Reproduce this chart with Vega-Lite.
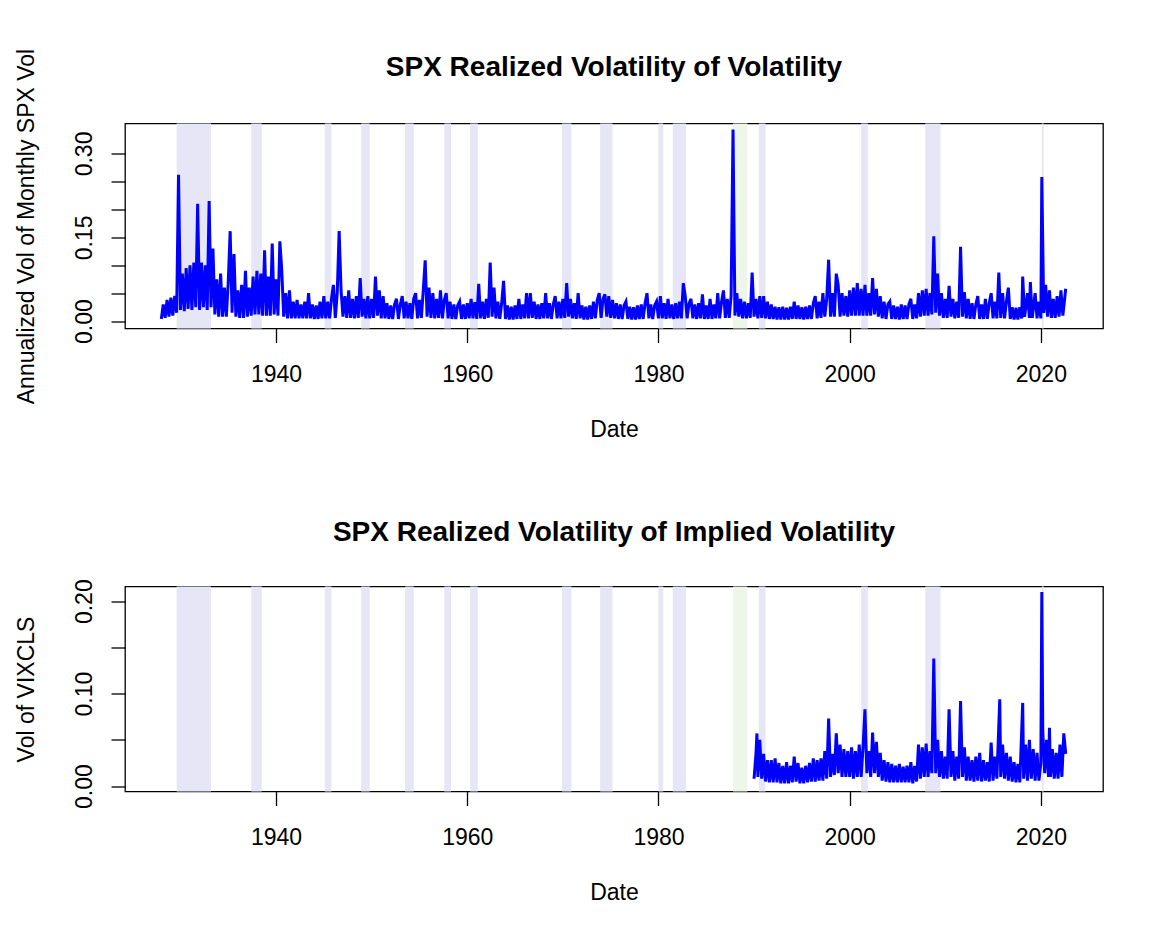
{
"$schema": "https://vega.github.io/schema/vega-lite/v6.json",
"background": "white",
"padding": {"left": 14, "top": 47.5, "right": 0, "bottom": 0},
"spacing": 75,
"config": {
 "view": {"stroke": "black", "strokeWidth": 1.3},
 "font": "Liberation Sans",
 "axis": {"grid": false, "domain": false, "tickColor": "black", "tickSize": 14, "tickWidth": 1.3, "labelFontSize": 23, "labelColor": "black", "titleFontSize": 23, "titleFontWeight": "normal", "titleColor": "black", "labelFont": "Liberation Sans", "titleFont": "Liberation Sans", "labelOverlap": false, "labelFlush": false},
 "title": {"fontSize": 28, "fontWeight": "bold", "color": "black", "font": "Liberation Sans", "anchor": "middle", "baseline": "alphabetic"}
},
"datasets": {
 "rec": [
  {"s":1929.6,"e":1933.2},{"s":1937.4,"e":1938.5},{"s":1945.1,"e":1945.8},{"s":1948.9,"e":1949.8},{"s":1953.5,"e":1954.4},{"s":1957.6,"e":1958.3},{"s":1960.3,"e":1961.1},{"s":1969.9,"e":1970.9},{"s":1973.9,"e":1975.2},{"s":1980.0,"e":1980.5},{"s":1981.5,"e":1982.9},{"s":1990.5,"e":1991.2},{"s":2001.2,"e":2001.9},{"s":2007.9,"e":2009.5},{"s":2020.1,"e":2020.3}
 ],
 "grn": [{"s":1987.8,"e":1989.3}],
 "vv": [
  {"t":1928.0,"v":0.004},{"t":1928.2,"v":0.030},{"t":1928.4,"v":0.006},{"t":1928.6,"v":0.038},{"t":1928.8,"v":0.008},{"t":1929.0,"v":0.042},{"t":1929.2,"v":0.010},{"t":1929.4,"v":0.045},{"t":1929.6,"v":0.015},{"t":1929.8,"v":0.262},
  {"t":1930.0,"v":0.020},{"t":1930.2,"v":0.085},{"t":1930.4,"v":0.018},{"t":1930.6,"v":0.095},{"t":1930.8,"v":0.022},{"t":1931.0,"v":0.100},{"t":1931.2,"v":0.020},{"t":1931.4,"v":0.105},{"t":1931.6,"v":0.025},{"t":1931.8,"v":0.210},
  {"t":1932.0,"v":0.020},{"t":1932.2,"v":0.105},{"t":1932.4,"v":0.025},{"t":1932.6,"v":0.100},{"t":1932.8,"v":0.020},{"t":1933.0,"v":0.215},{"t":1933.2,"v":0.025},{"t":1933.4,"v":0.130},{"t":1933.6,"v":0.012},{"t":1933.8,"v":0.075},
  {"t":1934.0,"v":0.008},{"t":1934.2,"v":0.085},{"t":1934.4,"v":0.008},{"t":1934.6,"v":0.060},{"t":1934.8,"v":0.008},{"t":1935.0,"v":0.070},{"t":1935.2,"v":0.161},{"t":1935.4,"v":0.015},{"t":1935.6,"v":0.120},{"t":1935.8,"v":0.008},
  {"t":1936.0,"v":0.055},{"t":1936.2,"v":0.006},{"t":1936.4,"v":0.065},{"t":1936.6,"v":0.006},{"t":1936.8,"v":0.090},{"t":1937.0,"v":0.008},{"t":1937.2,"v":0.060},{"t":1937.4,"v":0.010},{"t":1937.6,"v":0.080},{"t":1937.8,"v":0.012},
  {"t":1938.0,"v":0.090},{"t":1938.2,"v":0.012},{"t":1938.4,"v":0.085},{"t":1938.6,"v":0.010},{"t":1938.8,"v":0.127},{"t":1939.0,"v":0.010},{"t":1939.2,"v":0.080},{"t":1939.4,"v":0.010},{"t":1939.6,"v":0.139},{"t":1939.8,"v":0.012},
  {"t":1940.0,"v":0.075},{"t":1940.2,"v":0.010},{"t":1940.4,"v":0.143},{"t":1940.6,"v":0.090},{"t":1940.8,"v":0.008},{"t":1941.0,"v":0.050},{"t":1941.2,"v":0.005},{"t":1941.4,"v":0.055},{"t":1941.6,"v":0.005},{"t":1941.8,"v":0.035},
  {"t":1942.0,"v":0.005},{"t":1942.2,"v":0.038},{"t":1942.4,"v":0.005},{"t":1942.6,"v":0.030},{"t":1942.8,"v":0.005},{"t":1943.0,"v":0.035},{"t":1943.2,"v":0.005},{"t":1943.4,"v":0.050},{"t":1943.6,"v":0.005},{"t":1943.8,"v":0.030},
  {"t":1944.0,"v":0.004},{"t":1944.2,"v":0.028},{"t":1944.4,"v":0.004},{"t":1944.6,"v":0.035},{"t":1944.8,"v":0.005},{"t":1945.0,"v":0.045},{"t":1945.2,"v":0.005},{"t":1945.4,"v":0.035},{"t":1945.6,"v":0.005},{"t":1945.8,"v":0.040},
  {"t":1946.0,"v":0.065},{"t":1946.2,"v":0.006},{"t":1946.4,"v":0.050},{"t":1946.6,"v":0.161},{"t":1946.8,"v":0.055},{"t":1947.0,"v":0.008},{"t":1947.2,"v":0.045},{"t":1947.4,"v":0.006},{"t":1947.6,"v":0.055},{"t":1947.8,"v":0.006},
  {"t":1948.0,"v":0.040},{"t":1948.2,"v":0.005},{"t":1948.4,"v":0.045},{"t":1948.6,"v":0.006},{"t":1948.8,"v":0.077},{"t":1949.0,"v":0.008},{"t":1949.2,"v":0.040},{"t":1949.4,"v":0.005},{"t":1949.6,"v":0.045},{"t":1949.8,"v":0.005},
  {"t":1950.0,"v":0.040},{"t":1950.2,"v":0.006},{"t":1950.4,"v":0.080},{"t":1950.6,"v":0.010},{"t":1950.8,"v":0.055},{"t":1951.0,"v":0.005},{"t":1951.2,"v":0.045},{"t":1951.4,"v":0.005},{"t":1951.6,"v":0.032},{"t":1951.8,"v":0.004},
  {"t":1952.0,"v":0.028},{"t":1952.2,"v":0.004},{"t":1952.4,"v":0.030},{"t":1952.6,"v":0.040},{"t":1952.8,"v":0.004},{"t":1953.0,"v":0.030},{"t":1953.2,"v":0.045},{"t":1953.4,"v":0.005},{"t":1953.6,"v":0.035},{"t":1953.8,"v":0.005},
  {"t":1954.0,"v":0.032},{"t":1954.2,"v":0.004},{"t":1954.4,"v":0.040},{"t":1954.6,"v":0.050},{"t":1954.8,"v":0.005},{"t":1955.0,"v":0.038},{"t":1955.2,"v":0.006},{"t":1955.4,"v":0.055},{"t":1955.6,"v":0.109},{"t":1955.8,"v":0.008},
  {"t":1956.0,"v":0.060},{"t":1956.2,"v":0.006},{"t":1956.4,"v":0.050},{"t":1956.6,"v":0.005},{"t":1956.8,"v":0.040},{"t":1957.0,"v":0.006},{"t":1957.2,"v":0.055},{"t":1957.4,"v":0.005},{"t":1957.6,"v":0.038},{"t":1957.8,"v":0.050},
  {"t":1958.0,"v":0.005},{"t":1958.2,"v":0.035},{"t":1958.4,"v":0.004},{"t":1958.6,"v":0.030},{"t":1958.8,"v":0.004},{"t":1959.0,"v":0.028},{"t":1959.2,"v":0.035},{"t":1959.4,"v":0.004},{"t":1959.6,"v":0.030},{"t":1959.8,"v":0.004},
  {"t":1960.0,"v":0.032},{"t":1960.2,"v":0.005},{"t":1960.4,"v":0.040},{"t":1960.6,"v":0.005},{"t":1960.8,"v":0.034},{"t":1961.0,"v":0.004},{"t":1961.2,"v":0.067},{"t":1961.4,"v":0.005},{"t":1961.6,"v":0.035},{"t":1961.8,"v":0.004},
  {"t":1962.0,"v":0.040},{"t":1962.2,"v":0.006},{"t":1962.4,"v":0.105},{"t":1962.6,"v":0.008},{"t":1962.8,"v":0.060},{"t":1963.0,"v":0.005},{"t":1963.2,"v":0.035},{"t":1963.4,"v":0.004},{"t":1963.6,"v":0.032},{"t":1963.8,"v":0.072},
  {"t":1964.0,"v":0.004},{"t":1964.2,"v":0.028},{"t":1964.4,"v":0.003},{"t":1964.6,"v":0.026},{"t":1964.8,"v":0.003},{"t":1965.0,"v":0.028},{"t":1965.2,"v":0.004},{"t":1965.4,"v":0.040},{"t":1965.6,"v":0.004},{"t":1965.8,"v":0.030},
  {"t":1966.0,"v":0.005},{"t":1966.2,"v":0.050},{"t":1966.4,"v":0.005},{"t":1966.6,"v":0.050},{"t":1966.8,"v":0.006},{"t":1967.0,"v":0.035},{"t":1967.2,"v":0.004},{"t":1967.4,"v":0.030},{"t":1967.6,"v":0.004},{"t":1967.8,"v":0.032},
  {"t":1968.0,"v":0.005},{"t":1968.2,"v":0.050},{"t":1968.4,"v":0.005},{"t":1968.6,"v":0.032},{"t":1968.8,"v":0.004},{"t":1969.0,"v":0.030},{"t":1969.2,"v":0.045},{"t":1969.4,"v":0.005},{"t":1969.6,"v":0.035},{"t":1969.8,"v":0.005},
  {"t":1970.0,"v":0.040},{"t":1970.2,"v":0.006},{"t":1970.4,"v":0.068},{"t":1970.6,"v":0.008},{"t":1970.8,"v":0.040},{"t":1971.0,"v":0.005},{"t":1971.2,"v":0.032},{"t":1971.4,"v":0.004},{"t":1971.6,"v":0.050},{"t":1971.8,"v":0.005},
  {"t":1972.0,"v":0.028},{"t":1972.2,"v":0.003},{"t":1972.4,"v":0.026},{"t":1972.6,"v":0.003},{"t":1972.8,"v":0.028},{"t":1973.0,"v":0.004},{"t":1973.2,"v":0.035},{"t":1973.4,"v":0.005},{"t":1973.6,"v":0.038},{"t":1973.8,"v":0.050},
  {"t":1974.0,"v":0.006},{"t":1974.2,"v":0.040},{"t":1974.4,"v":0.048},{"t":1974.6,"v":0.008},{"t":1974.8,"v":0.045},{"t":1975.0,"v":0.006},{"t":1975.2,"v":0.038},{"t":1975.4,"v":0.005},{"t":1975.6,"v":0.032},{"t":1975.8,"v":0.004},
  {"t":1976.0,"v":0.030},{"t":1976.2,"v":0.004},{"t":1976.4,"v":0.028},{"t":1976.6,"v":0.035},{"t":1976.8,"v":0.004},{"t":1977.0,"v":0.026},{"t":1977.2,"v":0.003},{"t":1977.4,"v":0.025},{"t":1977.6,"v":0.003},{"t":1977.8,"v":0.028},
  {"t":1978.0,"v":0.004},{"t":1978.2,"v":0.030},{"t":1978.4,"v":0.004},{"t":1978.6,"v":0.032},{"t":1978.8,"v":0.050},{"t":1979.0,"v":0.005},{"t":1979.2,"v":0.030},{"t":1979.4,"v":0.004},{"t":1979.6,"v":0.028},{"t":1979.8,"v":0.035},
  {"t":1980.0,"v":0.005},{"t":1980.2,"v":0.045},{"t":1980.4,"v":0.005},{"t":1980.6,"v":0.032},{"t":1980.8,"v":0.004},{"t":1981.0,"v":0.040},{"t":1981.2,"v":0.005},{"t":1981.4,"v":0.030},{"t":1981.6,"v":0.004},{"t":1981.8,"v":0.032},
  {"t":1982.0,"v":0.005},{"t":1982.2,"v":0.035},{"t":1982.4,"v":0.005},{"t":1982.6,"v":0.068},{"t":1982.8,"v":0.045},{"t":1983.0,"v":0.005},{"t":1983.2,"v":0.032},{"t":1983.4,"v":0.040},{"t":1983.6,"v":0.005},{"t":1983.8,"v":0.030},
  {"t":1984.0,"v":0.004},{"t":1984.2,"v":0.032},{"t":1984.4,"v":0.005},{"t":1984.6,"v":0.048},{"t":1984.8,"v":0.004},{"t":1985.0,"v":0.028},{"t":1985.2,"v":0.004},{"t":1985.4,"v":0.040},{"t":1985.6,"v":0.004},{"t":1985.8,"v":0.030},
  {"t":1986.0,"v":0.005},{"t":1986.2,"v":0.050},{"t":1986.4,"v":0.005},{"t":1986.6,"v":0.035},{"t":1986.8,"v":0.055},{"t":1987.0,"v":0.006},{"t":1987.2,"v":0.040},{"t":1987.4,"v":0.006},{"t":1987.6,"v":0.045},{"t":1987.8,"v":0.343},
  {"t":1988.0,"v":0.010},{"t":1988.2,"v":0.050},{"t":1988.4,"v":0.008},{"t":1988.6,"v":0.040},{"t":1988.8,"v":0.005},{"t":1989.0,"v":0.035},{"t":1989.2,"v":0.005},{"t":1989.4,"v":0.032},{"t":1989.6,"v":0.006},{"t":1989.8,"v":0.087},
  {"t":1990.0,"v":0.008},{"t":1990.2,"v":0.040},{"t":1990.4,"v":0.005},{"t":1990.6,"v":0.045},{"t":1990.8,"v":0.006},{"t":1991.0,"v":0.045},{"t":1991.2,"v":0.005},{"t":1991.4,"v":0.035},{"t":1991.6,"v":0.004},{"t":1991.8,"v":0.030},
  {"t":1992.0,"v":0.004},{"t":1992.2,"v":0.026},{"t":1992.4,"v":0.003},{"t":1992.6,"v":0.025},{"t":1992.8,"v":0.003},{"t":1993.0,"v":0.026},{"t":1993.2,"v":0.003},{"t":1993.4,"v":0.024},{"t":1993.6,"v":0.003},{"t":1993.8,"v":0.026},
  {"t":1994.0,"v":0.004},{"t":1994.2,"v":0.035},{"t":1994.4,"v":0.004},{"t":1994.6,"v":0.028},{"t":1994.8,"v":0.004},{"t":1995.0,"v":0.025},{"t":1995.2,"v":0.003},{"t":1995.4,"v":0.026},{"t":1995.6,"v":0.004},{"t":1995.8,"v":0.028},
  {"t":1996.0,"v":0.004},{"t":1996.2,"v":0.032},{"t":1996.4,"v":0.045},{"t":1996.6,"v":0.005},{"t":1996.8,"v":0.035},{"t":1997.0,"v":0.006},{"t":1997.2,"v":0.050},{"t":1997.4,"v":0.008},{"t":1997.6,"v":0.040},{"t":1997.8,"v":0.110},
  {"t":1998.0,"v":0.008},{"t":1998.2,"v":0.050},{"t":1998.4,"v":0.008},{"t":1998.6,"v":0.085},{"t":1998.8,"v":0.065},{"t":1999.0,"v":0.008},{"t":1999.2,"v":0.050},{"t":1999.4,"v":0.010},{"t":1999.6,"v":0.045},{"t":1999.8,"v":0.008},
  {"t":2000.0,"v":0.055},{"t":2000.2,"v":0.010},{"t":2000.4,"v":0.060},{"t":2000.6,"v":0.010},{"t":2000.8,"v":0.068},{"t":2001.0,"v":0.010},{"t":2001.2,"v":0.058},{"t":2001.4,"v":0.010},{"t":2001.6,"v":0.065},{"t":2001.8,"v":0.010},
  {"t":2002.0,"v":0.050},{"t":2002.2,"v":0.010},{"t":2002.4,"v":0.077},{"t":2002.6,"v":0.012},{"t":2002.8,"v":0.058},{"t":2003.0,"v":0.008},{"t":2003.2,"v":0.045},{"t":2003.4,"v":0.005},{"t":2003.6,"v":0.035},{"t":2003.8,"v":0.004},
  {"t":2004.0,"v":0.030},{"t":2004.2,"v":0.035},{"t":2004.4,"v":0.004},{"t":2004.6,"v":0.028},{"t":2004.8,"v":0.004},{"t":2005.0,"v":0.026},{"t":2005.2,"v":0.003},{"t":2005.4,"v":0.030},{"t":2005.6,"v":0.004},{"t":2005.8,"v":0.028},
  {"t":2006.0,"v":0.004},{"t":2006.2,"v":0.030},{"t":2006.4,"v":0.040},{"t":2006.6,"v":0.004},{"t":2006.8,"v":0.030},{"t":2007.0,"v":0.005},{"t":2007.2,"v":0.050},{"t":2007.4,"v":0.008},{"t":2007.6,"v":0.055},{"t":2007.8,"v":0.010},
  {"t":2008.0,"v":0.058},{"t":2008.2,"v":0.010},{"t":2008.4,"v":0.050},{"t":2008.6,"v":0.012},{"t":2008.8,"v":0.152},{"t":2009.0,"v":0.015},{"t":2009.2,"v":0.085},{"t":2009.4,"v":0.010},{"t":2009.6,"v":0.050},{"t":2009.8,"v":0.006},
  {"t":2010.0,"v":0.040},{"t":2010.2,"v":0.006},{"t":2010.4,"v":0.063},{"t":2010.6,"v":0.008},{"t":2010.8,"v":0.040},{"t":2011.0,"v":0.005},{"t":2011.2,"v":0.035},{"t":2011.4,"v":0.006},{"t":2011.6,"v":0.133},{"t":2011.8,"v":0.008},
  {"t":2012.0,"v":0.052},{"t":2012.2,"v":0.005},{"t":2012.4,"v":0.040},{"t":2012.6,"v":0.004},{"t":2012.8,"v":0.032},{"t":2013.0,"v":0.004},{"t":2013.2,"v":0.030},{"t":2013.4,"v":0.045},{"t":2013.6,"v":0.004},{"t":2013.8,"v":0.030},
  {"t":2014.0,"v":0.004},{"t":2014.2,"v":0.040},{"t":2014.4,"v":0.004},{"t":2014.6,"v":0.032},{"t":2014.8,"v":0.050},{"t":2015.0,"v":0.005},{"t":2015.2,"v":0.035},{"t":2015.4,"v":0.005},{"t":2015.6,"v":0.087},{"t":2015.8,"v":0.006},
  {"t":2016.0,"v":0.050},{"t":2016.2,"v":0.005},{"t":2016.4,"v":0.035},{"t":2016.6,"v":0.060},{"t":2016.8,"v":0.004},{"t":2017.0,"v":0.025},{"t":2017.2,"v":0.003},{"t":2017.4,"v":0.024},{"t":2017.6,"v":0.003},{"t":2017.8,"v":0.025},
  {"t":2018.0,"v":0.005},{"t":2018.1,"v":0.080},{"t":2018.3,"v":0.008},{"t":2018.6,"v":0.050},{"t":2018.8,"v":0.006},{"t":2018.9,"v":0.070},{"t":2019.1,"v":0.006},{"t":2019.4,"v":0.050},{"t":2019.6,"v":0.005},{"t":2019.8,"v":0.035},
  {"t":2020.0,"v":0.005},{"t":2020.1,"v":0.258},{"t":2020.3,"v":0.015},{"t":2020.5,"v":0.065},{"t":2020.7,"v":0.008},{"t":2020.9,"v":0.055},{"t":2021.1,"v":0.006},{"t":2021.3,"v":0.040},{"t":2021.5,"v":0.006},{"t":2021.7,"v":0.045},
  {"t":2021.9,"v":0.008},{"t":2022.1,"v":0.055},{"t":2022.3,"v":0.010},{"t":2022.6,"v":0.058}
 ],
 "vix": [
  {"t":1990.0,"v":0.008},{"t":1990.2,"v":0.035},{"t":1990.3,"v":0.057},{"t":1990.4,"v":0.010},{"t":1990.6,"v":0.050},{"t":1990.8,"v":0.008},{"t":1991.0,"v":0.035},{"t":1991.2,"v":0.005},{"t":1991.4,"v":0.028},{"t":1991.6,"v":0.004},
  {"t":1991.8,"v":0.028},{"t":1992.0,"v":0.004},{"t":1992.2,"v":0.030},{"t":1992.4,"v":0.004},{"t":1992.6,"v":0.025},{"t":1992.8,"v":0.003},{"t":1993.0,"v":0.022},{"t":1993.2,"v":0.003},{"t":1993.4,"v":0.026},{"t":1993.6,"v":0.003},
  {"t":1993.8,"v":0.022},{"t":1994.0,"v":0.004},{"t":1994.2,"v":0.032},{"t":1994.4,"v":0.005},{"t":1994.6,"v":0.025},{"t":1994.8,"v":0.003},{"t":1995.0,"v":0.020},{"t":1995.2,"v":0.003},{"t":1995.4,"v":0.022},{"t":1995.6,"v":0.004},
  {"t":1995.8,"v":0.025},{"t":1996.0,"v":0.005},{"t":1996.2,"v":0.030},{"t":1996.4,"v":0.005},{"t":1996.6,"v":0.028},{"t":1996.8,"v":0.006},{"t":1997.0,"v":0.030},{"t":1997.2,"v":0.006},{"t":1997.4,"v":0.038},{"t":1997.6,"v":0.008},
  {"t":1997.8,"v":0.073},{"t":1998.0,"v":0.010},{"t":1998.2,"v":0.035},{"t":1998.4,"v":0.012},{"t":1998.6,"v":0.057},{"t":1998.8,"v":0.014},{"t":1999.0,"v":0.045},{"t":1999.2,"v":0.010},{"t":1999.4,"v":0.040},{"t":1999.6,"v":0.010},
  {"t":1999.8,"v":0.038},{"t":2000.0,"v":0.010},{"t":2000.2,"v":0.042},{"t":2000.4,"v":0.008},{"t":2000.6,"v":0.038},{"t":2000.8,"v":0.010},{"t":2001.0,"v":0.045},{"t":2001.2,"v":0.010},{"t":2001.4,"v":0.042},{"t":2001.6,"v":0.083},
  {"t":2001.8,"v":0.014},{"t":2002.0,"v":0.038},{"t":2002.2,"v":0.010},{"t":2002.4,"v":0.058},{"t":2002.6,"v":0.014},{"t":2002.8,"v":0.048},{"t":2003.0,"v":0.010},{"t":2003.2,"v":0.036},{"t":2003.4,"v":0.006},{"t":2003.6,"v":0.028},
  {"t":2003.8,"v":0.005},{"t":2004.0,"v":0.026},{"t":2004.2,"v":0.004},{"t":2004.4,"v":0.024},{"t":2004.6,"v":0.004},{"t":2004.8,"v":0.022},{"t":2005.0,"v":0.004},{"t":2005.2,"v":0.024},{"t":2005.4,"v":0.004},{"t":2005.6,"v":0.021},
  {"t":2005.8,"v":0.004},{"t":2006.0,"v":0.022},{"t":2006.2,"v":0.004},{"t":2006.4,"v":0.026},{"t":2006.6,"v":0.003},{"t":2006.8,"v":0.022},{"t":2007.0,"v":0.005},{"t":2007.2,"v":0.045},{"t":2007.4,"v":0.008},{"t":2007.6,"v":0.042},
  {"t":2007.8,"v":0.010},{"t":2008.0,"v":0.046},{"t":2008.2,"v":0.010},{"t":2008.4,"v":0.038},{"t":2008.6,"v":0.014},{"t":2008.8,"v":0.138},{"t":2009.0,"v":0.014},{"t":2009.2,"v":0.050},{"t":2009.4,"v":0.010},{"t":2009.6,"v":0.038},
  {"t":2009.8,"v":0.008},{"t":2010.0,"v":0.032},{"t":2010.2,"v":0.008},{"t":2010.4,"v":0.083},{"t":2010.6,"v":0.010},{"t":2010.8,"v":0.038},{"t":2011.0,"v":0.006},{"t":2011.2,"v":0.032},{"t":2011.4,"v":0.008},{"t":2011.6,"v":0.092},
  {"t":2011.8,"v":0.010},{"t":2012.0,"v":0.042},{"t":2012.2,"v":0.006},{"t":2012.4,"v":0.032},{"t":2012.6,"v":0.006},{"t":2012.8,"v":0.028},{"t":2013.0,"v":0.005},{"t":2013.2,"v":0.032},{"t":2013.4,"v":0.006},{"t":2013.6,"v":0.036},
  {"t":2013.8,"v":0.005},{"t":2014.0,"v":0.028},{"t":2014.2,"v":0.006},{"t":2014.4,"v":0.026},{"t":2014.6,"v":0.005},{"t":2014.8,"v":0.047},{"t":2015.0,"v":0.006},{"t":2015.2,"v":0.032},{"t":2015.4,"v":0.008},{"t":2015.7,"v":0.094},
  {"t":2015.8,"v":0.010},{"t":2016.0,"v":0.045},{"t":2016.2,"v":0.008},{"t":2016.4,"v":0.036},{"t":2016.6,"v":0.006},{"t":2016.8,"v":0.032},{"t":2017.0,"v":0.005},{"t":2017.2,"v":0.026},{"t":2017.4,"v":0.004},{"t":2017.6,"v":0.024},
  {"t":2017.8,"v":0.004},{"t":2018.1,"v":0.090},{"t":2018.2,"v":0.008},{"t":2018.4,"v":0.045},{"t":2018.6,"v":0.006},{"t":2018.8,"v":0.050},{"t":2019.0,"v":0.008},{"t":2019.2,"v":0.040},{"t":2019.4,"v":0.006},{"t":2019.6,"v":0.036},
  {"t":2019.8,"v":0.006},{"t":2020.0,"v":0.025},{"t":2020.1,"v":0.210},{"t":2020.2,"v":0.060},{"t":2020.4,"v":0.014},{"t":2020.6,"v":0.050},{"t":2020.8,"v":0.010},{"t":2020.9,"v":0.063},{"t":2021.0,"v":0.010},{"t":2021.2,"v":0.040},
  {"t":2021.4,"v":0.008},{"t":2021.6,"v":0.036},{"t":2021.8,"v":0.008},{"t":2022.0,"v":0.045},{"t":2022.2,"v":0.010},{"t":2022.4,"v":0.057},{"t":2022.6,"v":0.035}
 ]
},
"vconcat": [
 {
  "width": 978, "height": 205,
  "title": {"text": "SPX Realized Volatility of Volatility", "offset": -34},
  "layer": [
   {"data": {"name": "rec"}, "mark": {"type": "rect", "color": "#e6e6f7"},
    "encoding": {"x": {"field": "s", "type": "quantitative", "scale": {"domain": [1924.2, 2026.5], "nice": false, "zero": false}, "axis": {"values": [1940, 1960, 1980, 2000, 2020], "format": "d", "title": "Date", "labelBaseline": "alphabetic", "labelPadding": 38.7, "titleBaseline": "alphabetic", "titlePadding": 50}}, "x2": {"field": "e"}}},
   {"data": {"name": "grn"}, "mark": {"type": "rect", "color": "#eef6ea"},
    "encoding": {"x": {"field": "s", "type": "quantitative"}, "x2": {"field": "e"}}},
   {"data": {"name": "vv"}, "mark": {"type": "line", "color": "#0000ff", "strokeWidth": 3},
    "encoding": {
     "x": {"field": "t", "type": "quantitative", "scale": {"domain": [1924.2, 2026.5], "nice": false, "zero": false}, "axis": {"values": [1940, 1960, 1980, 2000, 2020], "format": "d", "title": "Date", "labelBaseline": "alphabetic", "labelPadding": 38.7, "titleBaseline": "alphabetic", "titlePadding": 50}},
     "y": {"field": "v", "type": "quantitative", "scale": {"domain": [-0.0131, 0.3536], "nice": false, "zero": false},
      "axis": {"values": [0, 0.05, 0.1, 0.15, 0.2, 0.25, 0.3], "labelExpr": "(datum.value == 0 || datum.value == 0.15 || datum.value == 0.3) ? format(datum.value, '.2f') : ''", "title": "Annualized Vol of Monthly SPX Vol", "labelAngle": 270, "labelAlign": "center", "labelBaseline": "alphabetic", "labelPadding": 19.5, "titleBaseline": "alphabetic", "titlePadding": 40}}
    }}
  ]
 },
 {
  "width": 978, "height": 205,
  "title": {"text": "SPX Realized Volatility of Implied Volatility", "offset": 32},
  "layer": [
   {"data": {"name": "rec"}, "mark": {"type": "rect", "color": "#e6e6f7"},
    "encoding": {"x": {"field": "s", "type": "quantitative", "scale": {"domain": [1924.2, 2026.5], "nice": false, "zero": false}, "axis": {"values": [1940, 1960, 1980, 2000, 2020], "format": "d", "title": "Date", "labelBaseline": "alphabetic", "labelPadding": 38.7, "titleBaseline": "alphabetic", "titlePadding": 50}}, "x2": {"field": "e"}}},
   {"data": {"name": "grn"}, "mark": {"type": "rect", "color": "#eef6ea"},
    "encoding": {"x": {"field": "s", "type": "quantitative"}, "x2": {"field": "e"}}},
   {"data": {"name": "vix"}, "mark": {"type": "line", "color": "#0000ff", "strokeWidth": 3},
    "encoding": {
     "x": {"field": "t", "type": "quantitative", "scale": {"domain": [1924.2, 2026.5], "nice": false, "zero": false}, "axis": {"values": [1940, 1960, 1980, 2000, 2020], "format": "d", "title": "Date", "labelBaseline": "alphabetic", "labelPadding": 38.7, "titleBaseline": "alphabetic", "titlePadding": 50}},
     "y": {"field": "v", "type": "quantitative", "scale": {"domain": [-0.0058, 0.2159], "nice": false, "zero": false},
      "axis": {"values": [0, 0.05, 0.1, 0.15, 0.2], "labelExpr": "(datum.value == 0 || datum.value == 0.1 || datum.value == 0.2) ? format(datum.value, '.2f') : ''", "title": "Vol of VIXCLS", "labelAngle": 270, "labelAlign": "center", "labelBaseline": "alphabetic", "labelPadding": 19.5, "titleBaseline": "alphabetic", "titlePadding": 40}}
    }}
  ]
 }
]
}
